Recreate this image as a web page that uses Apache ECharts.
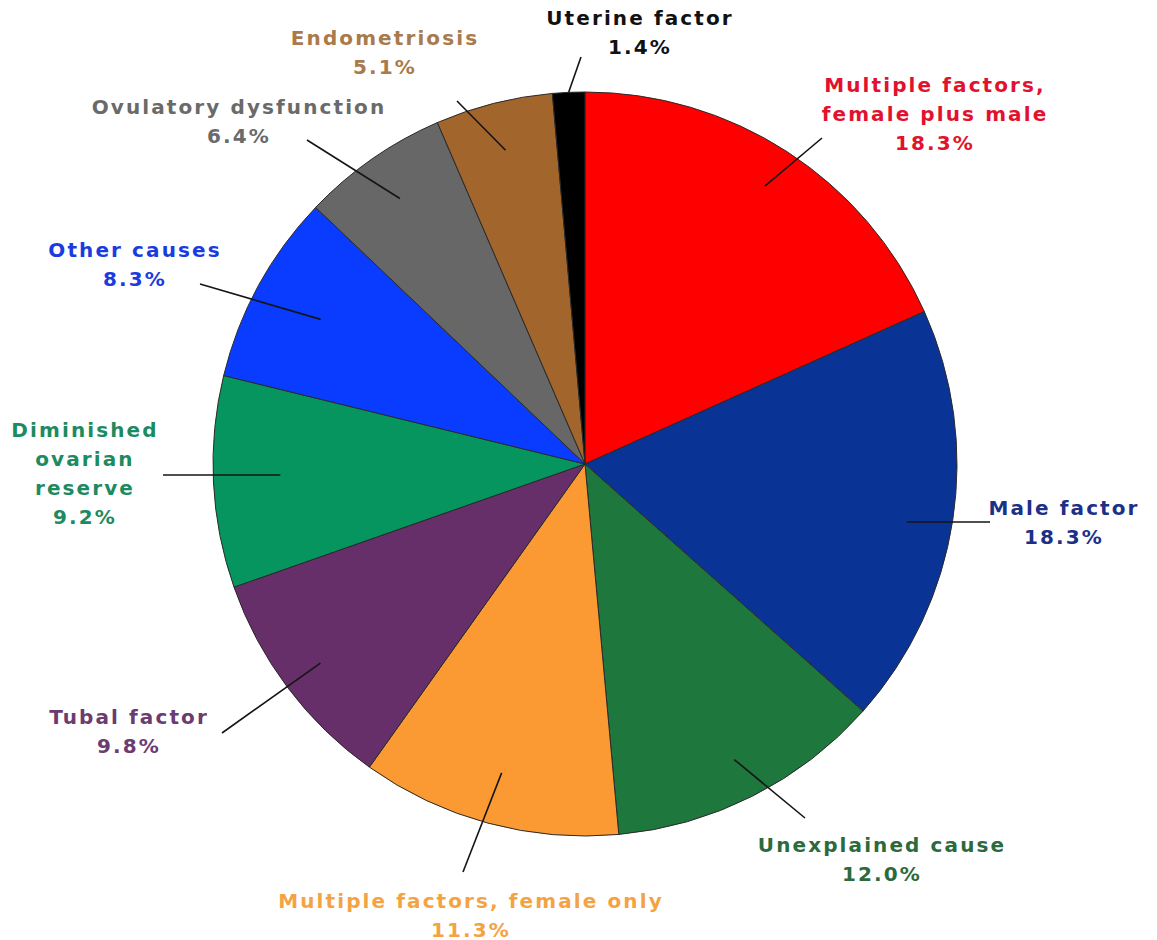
<!DOCTYPE html>
<html>
<head>
<meta charset="utf-8">
<title>Causes of infertility</title>
<script src="https://cdn.jsdelivr.net/npm/echarts@6/dist/echarts.min.js"></script>
<style>
  html, body { margin: 0; padding: 0; background: #ffffff; }
  #chart { width: 1157px; height: 940px; }
  /* slightly airy lettering for the slice labels */
  #chart svg text { letter-spacing: 2.1px; }
</style>
</head>
<body>
<div id="chart"></div>
<script>
// Slices, clockwise from 12 o'clock
const categories = [
  'Multiple factors,\nfemale plus male',
  'Male factor',
  'Unexplained cause',
  'Multiple factors, female only',
  'Tubal factor',
  'Diminished\novarian\nreserve',
  'Other causes',
  'Ovulatory dysfunction',
  'Endometriosis',
  'Uterine factor'
];
const percents = [18.3, 18.3, 12.0, 11.3, 9.8, 9.2, 8.3, 6.4, 5.1, 1.4];

const sliceColors = ['#ff0000', '#0a3396', '#1e773c', '#fb9a32', '#672f69',
                     '#07955f', '#0a3cff', '#676767', '#a2662c', '#000000'];
const labelColors = ['#e2122e', '#1d3088', '#2c6a3e', '#f4a343', '#6c3b6f',
                     '#1d8a62', '#1b3be0', '#6a6a6a', '#a97a4c', '#111111'];

const CX = 585, CY = 464, R = 372;

// Where each text block sits and where its leader line ends
const labelSpots = [
  { x: 935, y: 114, end: [822, 138], depth: 0.89 },
  { x: 1064, y: 522, end: [990, 522], depth: 0.875, flat: true },
  { x: 882, y: 859, end: [805, 818], depth: 0.89 },
  { x: 471, y: 915, end: [463, 872], depth: 0.86 },
  { x: 129, y: 731, end: [222, 733], depth: 0.89 },
  { x: 85, y: 473, end: [163, 475], depth: 0.82, flat: true },
  { x: 135, y: 264, end: [200, 284], depth: 0.81 },
  { x: 239, y: 121, end: [307, 140], depth: 0.87 },
  { x: 385, y: 52, end: [457, 101], depth: 0.87 },
  { x: 640, y: 32, end: [581, 57], depth: 1.0 }
];

// Mid-angle of each slice, clockwise from the top, in radians
const total = percents.reduce((a, b) => a + b, 0);
const midAngles = [];
let acc = 0;
percents.forEach(v => {
  midAngles.push(((acc + v / 2) / total) * Math.PI * 2);
  acc += v;
});

const pieGeometry = {
  type: 'pie',
  center: [CX, CY],
  radius: R,
  startAngle: 90,
  clockwise: true,
  avoidLabelOverlap: false,
  emphasis: { disabled: true }
};

const chart = echarts.init(document.getElementById('chart'), null, { renderer: 'svg' });

chart.setOption({
  backgroundColor: '#ffffff',
  animation: false,
  series: [
    // the coloured slices
    Object.assign({}, pieGeometry, {
      z: 2,
      silent: true,
      itemStyle: { borderColor: '#2a2a2a', borderWidth: 1 },
      label: { show: false },
      labelLine: { show: false },
      data: categories.map((name, i) => ({
        name: name,
        value: percents[i],
        itemStyle: { color: sliceColors[i] }
      }))
    }),
    // same slices, see-through, carrying the labels and leader lines on top
    Object.assign({}, pieGeometry, {
      z: 3,
      silent: true,
      itemStyle: { color: 'rgba(0,0,0,0)', borderWidth: 0 },
      label: {
        show: true,
        position: 'outside',
        fontFamily: 'DejaVu Sans',
        fontWeight: 'bold',
        fontSize: 20,
        lineHeight: 29,
        formatter: p => p.name + '\n' + p.value.toFixed(1) + '%'
      },
      labelLine: {
        show: true,
        lineStyle: { color: '#151515', width: 1.6 }
      },
      labelLayout: params => {
        const i = params.dataIndex;
        const s = labelSpots[i];
        const a = midAngles[i];
        const rr = R * s.depth;
        const sx = CX + rr * Math.sin(a);
        const sy = s.flat ? s.end[1] : CY - rr * Math.cos(a);
        return {
          x: s.x,
          y: s.y,
          align: 'center',
          verticalAlign: 'middle',
          labelLinePoints: [[sx, sy], s.end]
        };
      },
      data: categories.map((name, i) => ({
        name: name,
        value: percents[i],
        label: { color: labelColors[i] }
      }))
    })
  ]
});
</script>
</body>
</html>
